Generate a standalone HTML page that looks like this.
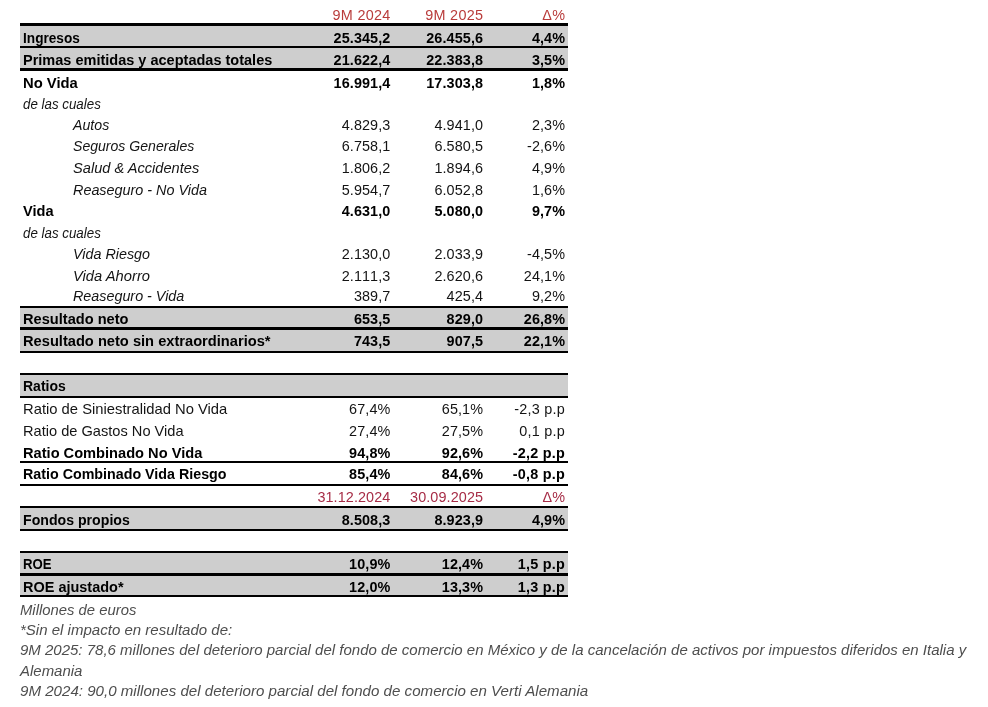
<!DOCTYPE html>
<html lang="es"><head><meta charset="utf-8"><title>Resultados 9M 2025</title>
<style>
html,body{margin:0;padding:0;background:#fff;}
body{width:988px;height:707px;position:relative;overflow:hidden;font-family:"Liberation Sans",sans-serif;font-size:14.4px;color:#141414;}
.t{position:absolute;white-space:nowrap;line-height:20px;height:20px;transform-origin:0 14.99px;}
.r{text-align:right;font-kerning:none;letter-spacing:.1px;margin-right:-.1px;transform-origin:100% 14.99px;}
.b{font-weight:bold;color:#000;}
.i{font-style:italic;}
.hd{color:#b93c3b;letter-spacing:.3px;margin-right:-.3px;}
.hd2{color:#a62c46;}
.ln{position:absolute;left:20px;width:548px;background:#000;}
.bd{position:absolute;left:20px;width:548px;background:#cecece;}
.f{position:absolute;left:19.8px;white-space:nowrap;font-style:italic;font-size:15.0px;line-height:20px;height:20px;color:#4e4e4e;transform-origin:0 15.2px;}
</style></head><body>

<div class="bd" style="top:25px;height:44px"></div>
<div class="bd" style="top:307px;height:45px"></div>
<div class="bd" style="top:374px;height:23px"></div>
<div class="bd" style="top:506.5px;height:23.5px"></div>
<div class="bd" style="top:552px;height:44px"></div>
<div class="ln" style="top:23.05px;height:3.2px"></div>
<div class="ln" style="top:46.0px;height:2.2px"></div>
<div class="ln" style="top:67.8px;height:3.2px"></div>
<div class="ln" style="top:306.2px;height:2.2px"></div>
<div class="ln" style="top:327.4px;height:2.2px"></div>
<div class="ln" style="top:350.8px;height:2.2px"></div>
<div class="ln" style="top:372.95px;height:2.2px"></div>
<div class="ln" style="top:395.9px;height:2.2px"></div>
<div class="ln" style="top:461.05px;height:2.2px"></div>
<div class="ln" style="top:483.5px;height:2.2px"></div>
<div class="ln" style="top:505.55px;height:2.2px"></div>
<div class="ln" style="top:528.8px;height:2.2px"></div>
<div class="ln" style="top:551.05px;height:2.2px"></div>
<div class="ln" style="top:572.7px;height:3.2px"></div>
<div class="ln" style="top:595.25px;height:2.2px"></div>
<div class="t r hd" style="top:4.81px;right:597.7px">9M 2024</div>
<div class="t r hd" style="top:4.81px;right:505.0px">9M 2025</div>
<div class="t r hd" style="top:4.81px;right:423.0px">Δ%</div>
<div class="t l b" style="top:28.01px;left:22.7px;transform:scaleX(0.9486)">Ingresos</div>
<div class="t r b" style="top:28.01px;right:597.7px">25.345,2</div>
<div class="t r b" style="top:28.01px;right:505.0px">26.455,6</div>
<div class="t r b" style="top:28.01px;right:423.0px">4,4%</div>
<div class="t l b" style="top:49.71px;left:22.7px;transform:scaleX(1.0086)">Primas emitidas y aceptadas totales</div>
<div class="t r b" style="top:49.71px;right:597.7px">21.622,4</div>
<div class="t r b" style="top:49.71px;right:505.0px">22.383,8</div>
<div class="t r b" style="top:49.71px;right:423.0px">3,5%</div>
<div class="t l b" style="top:73.01px;left:22.7px;transform:scaleX(1.0279)">No Vida</div>
<div class="t r b" style="top:73.01px;right:597.7px">16.991,4</div>
<div class="t r b" style="top:73.01px;right:505.0px">17.303,8</div>
<div class="t r b" style="top:73.01px;right:423.0px">1,8%</div>
<div class="t l i" style="top:93.71px;left:22.7px;transform:scaleX(0.9262)">de las cuales</div>
<div class="t l i" style="top:114.61px;left:72.5px;transform:scaleX(0.9847)">Autos</div>
<div class="t r " style="top:114.61px;right:597.7px">4.829,3</div>
<div class="t r " style="top:114.61px;right:505.0px">4.941,0</div>
<div class="t r " style="top:114.61px;right:423.0px">2,3%</div>
<div class="t l i" style="top:136.41px;left:72.5px;transform:scaleX(0.9778)">Seguros Generales</div>
<div class="t r " style="top:136.41px;right:597.7px">6.758,1</div>
<div class="t r " style="top:136.41px;right:505.0px">6.580,5</div>
<div class="t r " style="top:136.41px;right:423.0px">-2,6%</div>
<div class="t l i" style="top:157.61px;left:72.5px;transform:scaleX(1.016)">Salud &amp; Accidentes</div>
<div class="t r " style="top:157.61px;right:597.7px">1.806,2</div>
<div class="t r " style="top:157.61px;right:505.0px">1.894,6</div>
<div class="t r " style="top:157.61px;right:423.0px">4,9%</div>
<div class="t l i" style="top:179.71px;left:72.5px;transform:scaleX(0.999)">Reaseguro - No Vida</div>
<div class="t r " style="top:179.71px;right:597.7px">5.954,7</div>
<div class="t r " style="top:179.71px;right:505.0px">6.052,8</div>
<div class="t r " style="top:179.71px;right:423.0px">1,6%</div>
<div class="t l b" style="top:200.51px;left:22.7px;transform:scaleX(1.0136)">Vida</div>
<div class="t r b" style="top:200.51px;right:597.7px">4.631,0</div>
<div class="t r b" style="top:200.51px;right:505.0px">5.080,0</div>
<div class="t r b" style="top:200.51px;right:423.0px">9,7%</div>
<div class="t l i" style="top:222.71px;left:22.7px;transform:scaleX(0.9262)">de las cuales</div>
<div class="t l i" style="top:243.61px;left:72.5px;transform:scaleX(0.9956)">Vida Riesgo</div>
<div class="t r " style="top:243.61px;right:597.7px">2.130,0</div>
<div class="t r " style="top:243.61px;right:505.0px">2.033,9</div>
<div class="t r " style="top:243.61px;right:423.0px">-4,5%</div>
<div class="t l i" style="top:265.71px;left:72.5px;transform:scaleX(1.0239)">Vida Ahorro</div>
<div class="t r " style="top:265.71px;right:597.7px">2.111,3</div>
<div class="t r " style="top:265.71px;right:505.0px">2.620,6</div>
<div class="t r " style="top:265.71px;right:423.0px">24,1%</div>
<div class="t l i" style="top:286.41px;left:72.5px;transform:scaleX(0.9957)">Reaseguro - Vida</div>
<div class="t r " style="top:286.41px;right:597.7px">389,7</div>
<div class="t r " style="top:286.41px;right:505.0px">425,4</div>
<div class="t r " style="top:286.41px;right:423.0px">9,2%</div>
<div class="t l b" style="top:309.01px;left:22.7px;transform:scaleX(1.0154)">Resultado neto</div>
<div class="t r b" style="top:309.01px;right:597.7px">653,5</div>
<div class="t r b" style="top:309.01px;right:505.0px">829,0</div>
<div class="t r b" style="top:309.01px;right:423.0px">26,8%</div>
<div class="t l b" style="top:331.31px;left:22.7px;transform:scaleX(1.0181)">Resultado neto sin extraordinarios*</div>
<div class="t r b" style="top:331.31px;right:597.7px">743,5</div>
<div class="t r b" style="top:331.31px;right:505.0px">907,5</div>
<div class="t r b" style="top:331.31px;right:423.0px">22,1%</div>
<div class="t l b" style="top:376.31px;left:22.7px;transform:scaleX(0.9731)">Ratios</div>
<div class="t l " style="top:399.41px;left:22.7px;transform:scaleX(1.027)">Ratio de Siniestralidad No Vida</div>
<div class="t r " style="top:399.41px;right:597.7px">67,4%</div>
<div class="t r " style="top:399.41px;right:505.0px">65,1%</div>
<div class="t r " style="top:399.41px;right:423.0px;letter-spacing:0.25px">-2,3 p.p</div>
<div class="t l " style="top:420.81px;left:22.7px;transform:scaleX(1.0153)">Ratio de Gastos No Vida</div>
<div class="t r " style="top:420.81px;right:597.7px">27,4%</div>
<div class="t r " style="top:420.81px;right:505.0px">27,5%</div>
<div class="t r " style="top:420.81px;right:423.0px;letter-spacing:0.25px">0,1 p.p</div>
<div class="t l b" style="top:442.51px;left:22.7px;transform:scaleX(1.0162)">Ratio Combinado No Vida</div>
<div class="t r b" style="top:442.51px;right:597.7px">94,8%</div>
<div class="t r b" style="top:442.51px;right:505.0px">92,6%</div>
<div class="t r b" style="top:442.51px;right:423.0px;letter-spacing:0.25px">-2,2 p.p</div>
<div class="t l b" style="top:464.41px;left:22.7px;transform:scaleX(0.9918)">Ratio Combinado Vida Riesgo</div>
<div class="t r b" style="top:464.41px;right:597.7px">85,4%</div>
<div class="t r b" style="top:464.41px;right:505.0px">84,6%</div>
<div class="t r b" style="top:464.41px;right:423.0px;letter-spacing:0.25px">-0,8 p.p</div>
<div class="t r hd2" style="top:487.01px;right:597.7px">31.12.2024</div>
<div class="t r hd2" style="top:487.01px;right:505.0px">30.09.2025</div>
<div class="t r hd2" style="top:487.01px;right:423.0px">Δ%</div>
<div class="t l b" style="top:509.71px;left:22.7px;transform:scaleX(0.9824)">Fondos propios</div>
<div class="t r b" style="top:509.71px;right:597.7px">8.508,3</div>
<div class="t r b" style="top:509.71px;right:505.0px">8.923,9</div>
<div class="t r b" style="top:509.71px;right:423.0px">4,9%</div>
<div class="t l b" style="top:554.31px;left:22.7px;transform:scaleX(0.9154)">ROE</div>
<div class="t r b" style="top:554.31px;right:597.7px">10,9%</div>
<div class="t r b" style="top:554.31px;right:505.0px">12,4%</div>
<div class="t r b" style="top:554.31px;right:423.0px;letter-spacing:0.25px">1,5 p.p</div>
<div class="t l b" style="top:576.81px;left:22.7px;transform:scaleX(1.0058)">ROE ajustado*</div>
<div class="t r b" style="top:576.81px;right:597.7px">12,0%</div>
<div class="t r b" style="top:576.81px;right:505.0px">13,3%</div>
<div class="t r b" style="top:576.81px;right:423.0px;letter-spacing:0.25px">1,3 p.p</div>
<div class="f l" style="top:599.8px;transform:scaleX(0.9893)">Millones de euros</div>
<div class="f l" style="top:620.2px;transform:scaleX(1.0019)">*Sin el impacto en resultado de:</div>
<div class="f l" style="top:640.4px;transform:scaleX(0.9998)">9M 2025: 78,6 millones del deterioro parcial del fondo de comercio en México y de la cancelación de activos por impuestos diferidos en Italia y</div>
<div class="f l" style="top:660.6px;transform:scaleX(0.9977)">Alemania</div>
<div class="f l" style="top:681.0px;transform:scaleX(1.0071)">9M 2024: 90,0 millones del deterioro parcial del fondo de comercio en Verti Alemania</div>
</body></html>
